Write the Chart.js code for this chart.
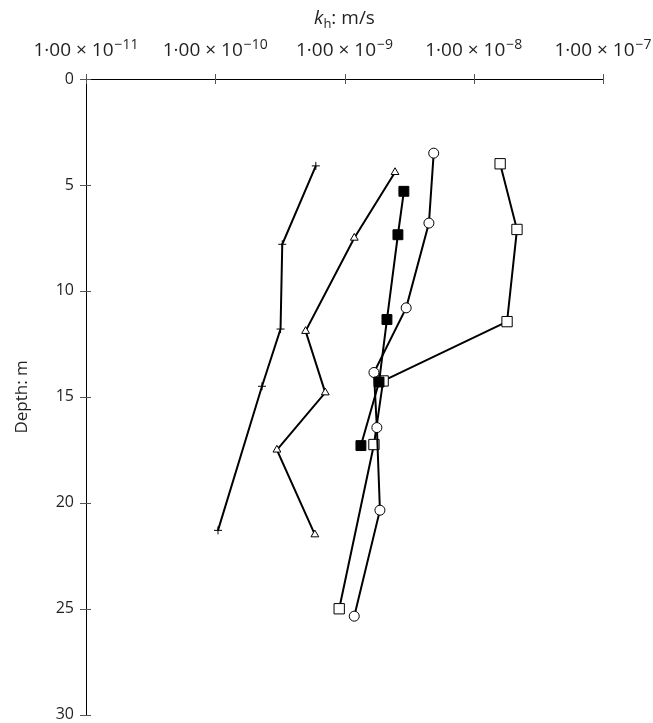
<!DOCTYPE html>
<html>
<head>
<meta charset="utf-8">
<script src="https://cdn.jsdelivr.net/npm/chart.js@4.4.1/dist/chart.umd.min.js"></script>
<style>
  html, body { margin: 0; padding: 0; background: #fff; }
  canvas { display: block; }
</style>
</head>
<body>
<canvas id="kChart" width="653" height="723"></canvas>
<script>
// Permeability profiles: depth (m) against horizontal permeability k_h (m/s)
const depthCross = [4.1, 7.8, 11.8, 14.5, 21.3];
const kCross = [6.0e-10, 3.3e-10, 3.2e-10, 2.3e-10, 1.05e-10];

const depthTriangle = [4.4, 7.5, 11.9, 14.8, 17.5, 21.5];
const kTriangle = [2.46e-9, 1.19e-9, 5.0e-10, 7.1e-10, 3.0e-10, 5.9e-10];

const depthFilledSquare = [5.3, 7.35, 11.35, 14.3, 17.3];
const kFilledSquare = [2.88e-9, 2.59e-9, 2.13e-9, 1.85e-9, 1.34e-9];

const depthCircle = [3.5, 6.8, 10.8, 13.85, 16.45, 20.35, 25.35];
const kCircle = [4.9e-9, 4.5e-9, 3.0e-9, 1.69e-9, 1.78e-9, 1.88e-9, 1.19e-9];

const depthOpenSquare = [4.0, 7.1, 11.45, 14.25, 17.25, 25.0];
const kOpenSquare = [1.6e-8, 2.16e-8, 1.81e-8, 1.99e-9, 1.69e-9, 9.1e-10];

const xTicks = [1e-11, 1e-10, 1e-9, 1e-8, 1e-7];
const xTickExponents = ['11', '10', '9', '8', '7'];

const FONT = '"Open Sans", "Noto Sans", sans-serif';
const TEXT = '#231f20';

function toPoints(ks, depths) {
  return ks.map((k, i) => ({ x: k, y: depths[i] }));
}

function series(ks, depths, style, radius, fill, pointWidth) {
  return {
    data: toPoints(ks, depths),
    showLine: true,
    borderColor: '#000',
    borderWidth: 2,
    tension: 0,
    pointStyle: style,
    pointRadius: radius,
    pointHoverRadius: radius,
    pointBorderColor: '#000',
    pointBackgroundColor: fill,
    pointBorderWidth: pointWidth
  };
}

// top axis labels with superscript exponents, title and crossing tick marks
const axisDecor = {
  id: 'axisDecor',
  afterDraw(chart) {
    const { ctx, chartArea } = chart;
    const xs = chart.scales.x;
    const ys = chart.scales.y;
    ctx.save();
    ctx.fillStyle = TEXT;
    ctx.textBaseline = 'alphabetic';

    xTicks.forEach((v, i) => {
      const px = xs.getPixelForValue(v);
      const base = '1\u00b700 \u00d7 10';
      const exp = '\u2212' + xTickExponents[i];
      ctx.font = '19px ' + FONT;
      const wb = ctx.measureText(base).width;
      ctx.font = '14px ' + FONT;
      const we = ctx.measureText(exp).width;
      const x0 = px - (wb + we + 1) / 2;
      ctx.font = '19px ' + FONT;
      ctx.fillText(base, x0, 56);
      ctx.font = '14px ' + FONT;
      ctx.fillText(exp, x0 + wb + 1, 49);
    });

    // k_h: m/s
    const cx = (chartArea.left + chartArea.right) / 2;
    ctx.font = 'italic 19px ' + FONT;
    const wk = ctx.measureText('k').width;
    ctx.font = '13px ' + FONT;
    const wh = ctx.measureText('h').width;
    ctx.font = '19px ' + FONT;
    const wr = ctx.measureText(': m/s').width;
    let tx = cx - (wk + wh + wr) / 2;
    ctx.font = 'italic 19px ' + FONT;
    ctx.fillText('k', tx, 24);
    tx += wk;
    ctx.font = '13px ' + FONT;
    ctx.fillText('h', tx, 28);
    tx += wh;
    ctx.font = '19px ' + FONT;
    ctx.fillText(': m/s', tx, 24);

    ctx.strokeStyle = '#555';
    ctx.lineWidth = 1;
    ctx.beginPath();
    xTicks.forEach(v => {
      const px = Math.round(xs.getPixelForValue(v)) + 0.5;
      ctx.moveTo(px, chartArea.top - 5);
      ctx.lineTo(px, chartArea.top + 5);
    });
    ys.ticks.forEach(t => {
      const py = Math.round(ys.getPixelForValue(t.value)) + 0.5;
      ctx.moveTo(chartArea.left - 6, py);
      ctx.lineTo(chartArea.left + 5, py);
    });
    ctx.stroke();
    ctx.restore();
  }
};

new Chart(document.getElementById('kChart'), {
  type: 'scatter',
  data: {
    datasets: [
      series(kCross, depthCross, 'cross', 4, '#000', 1),
      series(kTriangle, depthTriangle, 'triangle', 4.5, '#fff', 1),
      series(kFilledSquare, depthFilledSquare, 'rect', 7, '#000', 1),
      series(kCircle, depthCircle, 'circle', 5, '#fff', 1),
      series(kOpenSquare, depthOpenSquare, 'rect', 7.3, '#fff', 1)
    ]
  },
  options: {
    responsive: false,
    animation: false,
    layout: { padding: { top: 0, left: 0, right: 50, bottom: 5 } },
    plugins: {
      legend: { display: false },
      tooltip: { enabled: false }
    },
    scales: {
      x: {
        type: 'logarithmic',
        position: 'top',
        min: 1e-11,
        max: 1e-7,
        afterBuildTicks: s => { s.ticks = xTicks.map(v => ({ value: v })); },
        afterFit: s => { s.height = 79; },
        ticks: { display: false },
        grid: { display: false, drawTicks: false },
        border: { display: true, color: '#000', width: 1 }
      },
      y: {
        type: 'linear',
        reverse: true,
        min: 0,
        max: 30,
        afterFit: s => { s.width = 86; },
        ticks: {
          stepSize: 5,
          padding: 0,
          color: TEXT,
          font: { family: FONT, size: 16, lineHeight: 0.8 }
        },
        // grid hidden, its tick length only offsets the labels
        grid: { display: false, drawTicks: true, tickLength: 12 },
        border: { display: true, color: '#000', width: 1 },
        title: {
          display: true,
          text: 'Depth: m',
          color: TEXT,
          font: { family: FONT, size: 17 },
          padding: { top: 12, bottom: 0 }
        }
      }
    }
  },
  plugins: [axisDecor]
});
</script>
</body>
</html>
